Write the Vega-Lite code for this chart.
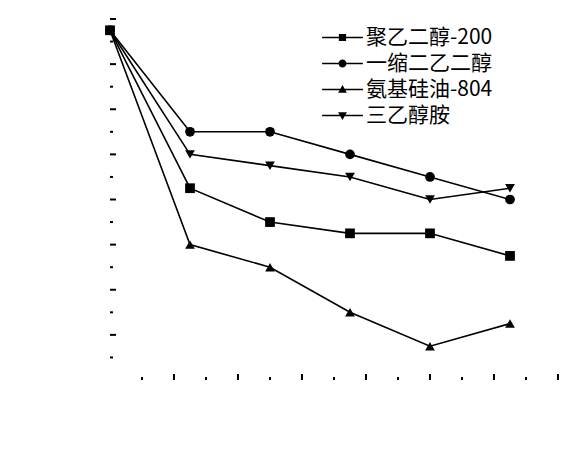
{
  "$schema": "https://vega.github.io/schema/vega-lite/v6.json",
  "width": 448,
  "height": 361,
  "autosize": "none",
  "padding": {"left": 110, "top": 19, "right": 27, "bottom": 81},
  "background": "white",
  "config": {
    "view": {"stroke": null, "fill": "transparent"},
    "axis": {
      "domainColor": "black",
      "domainWidth": 3,
      "ticks": false,
      "grid": false,
      "zindex": 1,
      "labelColor": "black",
      "titleColor": "black",
      "labelFont": "Liberation Sans",
      "titleFont": "Noto Sans CJK SC"
    }
  },
  "datasets": {
    "oil": [
      {"series": "聚乙二醇-200", "dose": 0, "oil": 2.55},
      {"series": "聚乙二醇-200", "dose": 0.25, "oil": 1.85},
      {"series": "聚乙二醇-200", "dose": 0.5, "oil": 1.7},
      {"series": "聚乙二醇-200", "dose": 0.75, "oil": 1.65},
      {"series": "聚乙二醇-200", "dose": 1.0, "oil": 1.65},
      {"series": "聚乙二醇-200", "dose": 1.25, "oil": 1.55},
      {"series": "一缩二乙二醇", "dose": 0, "oil": 2.55},
      {"series": "一缩二乙二醇", "dose": 0.25, "oil": 2.1},
      {"series": "一缩二乙二醇", "dose": 0.5, "oil": 2.1},
      {"series": "一缩二乙二醇", "dose": 0.75, "oil": 2.0},
      {"series": "一缩二乙二醇", "dose": 1.0, "oil": 1.9},
      {"series": "一缩二乙二醇", "dose": 1.25, "oil": 1.8},
      {"series": "氨基硅油-804", "dose": 0, "oil": 2.55},
      {"series": "氨基硅油-804", "dose": 0.25, "oil": 1.6},
      {"series": "氨基硅油-804", "dose": 0.5, "oil": 1.5},
      {"series": "氨基硅油-804", "dose": 0.75, "oil": 1.3},
      {"series": "氨基硅油-804", "dose": 1.0, "oil": 1.15},
      {"series": "氨基硅油-804", "dose": 1.25, "oil": 1.25},
      {"series": "三乙醇胺", "dose": 0, "oil": 2.55},
      {"series": "三乙醇胺", "dose": 0.25, "oil": 2.0},
      {"series": "三乙醇胺", "dose": 0.5, "oil": 1.95},
      {"series": "三乙醇胺", "dose": 0.75, "oil": 1.9},
      {"series": "三乙醇胺", "dose": 1.0, "oil": 1.8},
      {"series": "三乙醇胺", "dose": 1.25, "oil": 1.85}
    ],
    "xticks": [
      {"v": 0.1, "kind": "minor"}, {"v": 0.2, "kind": "major"},
      {"v": 0.3, "kind": "minor"}, {"v": 0.4, "kind": "major"},
      {"v": 0.5, "kind": "minor"}, {"v": 0.6, "kind": "major"},
      {"v": 0.7, "kind": "minor"}, {"v": 0.8, "kind": "major"},
      {"v": 0.9, "kind": "minor"}, {"v": 1.0, "kind": "major"},
      {"v": 1.1, "kind": "minor"}, {"v": 1.2, "kind": "major"},
      {"v": 1.3, "kind": "minor"}, {"v": 1.4, "kind": "major"}
    ],
    "yticks": [
      {"v": 1.1, "kind": "minor"}, {"v": 1.2, "kind": "major"},
      {"v": 1.3, "kind": "minor"}, {"v": 1.4, "kind": "major"},
      {"v": 1.5, "kind": "minor"}, {"v": 1.6, "kind": "major"},
      {"v": 1.7, "kind": "minor"}, {"v": 1.8, "kind": "major"},
      {"v": 1.9, "kind": "minor"}, {"v": 2.0, "kind": "major"},
      {"v": 2.1, "kind": "minor"}, {"v": 2.2, "kind": "major"},
      {"v": 2.3, "kind": "minor"}, {"v": 2.4, "kind": "major"},
      {"v": 2.5, "kind": "minor"}, {"v": 2.6, "kind": "major"}
    ]
  },
  "layer": [
    {
      "data": {"name": "oil"},
      "mark": {"type": "line", "color": "black", "strokeWidth": 1.6},
      "encoding": {
        "detail": {"field": "series"},
        "x": {
          "field": "dose", "type": "quantitative",
          "scale": {"domain": [0, 1.4], "nice": false, "zero": false},
          "axis": {
            "orient": "bottom",
            "values": [0, 0.2, 0.4, 0.6, 0.8, 1.0, 1.2, 1.4],
            "labelExpr": "replace(format(datum.value, '.1f'), '.', '. ')",
            "labelPadding": 11,
            "labelFontSize": 26,
            "labelFlush": false,
            "title": "改性剂用量/%",
            "titleFontSize": 26,
            "titleFontWeight": "normal",
            "titlePadding": 10
          }
        },
        "y": {
          "field": "oil", "type": "quantitative",
          "scale": {"domain": [1.0, 2.6], "nice": false, "zero": false},
          "axis": {
            "orient": "left",
            "values": [1.0, 1.2, 1.4, 1.6, 1.8, 2.0, 2.2, 2.4, 2.6],
            "labelExpr": "replace(format(datum.value, '.1f'), '.', '. ')",
            "labelPadding": 11,
            "labelFontSize": 26,
            "labelFlush": false,
            "title": "吸油值/(10⁻¹ mL/g)",
            "titleFontSize": 23,
            "titleFontWeight": "bold",
            "titlePadding": 10
          }
        }
      }
    },
    {
      "data": {"name": "oil"},
      "mark": {"type": "point", "filled": true, "color": "black", "opacity": 1, "size": 95},
      "encoding": {
        "x": {"field": "dose", "type": "quantitative", "axis": null},
        "y": {"field": "oil", "type": "quantitative", "axis": null},
        "shape": {
          "field": "series", "type": "nominal",
          "scale": {
            "domain": ["聚乙二醇-200", "一缩二乙二醇", "氨基硅油-804", "三乙醇胺"],
            "range": ["square", "circle", "triangle-up", "triangle-down"]
          },
          "legend": null
        }
      }
    },
    {
      "data": {"name": "oil"},
      "mark": {"type": "point", "filled": true, "color": "black", "opacity": 0, "size": 64},
      "encoding": {
        "x": {"field": "dose", "type": "quantitative", "axis": null},
        "y": {"field": "oil", "type": "quantitative", "axis": null},
        "shape": {
          "field": "series", "type": "nominal",
          "scale": {
            "domain": ["聚乙二醇-200", "一缩二乙二醇", "氨基硅油-804", "三乙醇胺"],
            "range": [
              "M-5.1,-0.2H5.1V0.2H-5.1ZM-0.9,-0.9H0.9V0.9H-0.9Z",
              "M-5.1,-0.2H5.1V0.2H-5.1ZM1,0A1,1 0 1 1 -1,0A1,1 0 1 1 1,0Z",
              "M-5.1,-0.2H5.1V0.2H-5.1ZM0,-1.15L1.1,0.8H-1.1Z",
              "M-5.1,-0.2H5.1V0.2H-5.1ZM0,1.15L-1.1,-0.8H1.1Z"
            ]
          },
          "legend": {
            "title": null,
            "orient": "none",
            "legendX": 222,
            "legendY": 8,
            "symbolSize": 64,
            "symbolOpacity": 1,
            "symbolFillColor": "black",
            "symbolStrokeWidth": 0,
            "labelOffset": 13,
            "labelFont": "Noto Sans CJK SC",
            "labelFontSize": 21,
            "labelColor": "black",
            "rowPadding": 4
          }
        }
      }
    },
    {
      "data": {"name": "xticks"},
      "transform": [{"filter": "datum.kind === 'major'"}],
      "mark": {"type": "tick", "orient": "vertical", "color": "black", "thickness": 2, "size": 6, "yOffset": -3, "opacity": 1},
      "encoding": {
        "x": {"field": "v", "type": "quantitative", "axis": null},
        "y": {"datum": 1.0, "type": "quantitative", "axis": null}
      }
    },
    {
      "data": {"name": "xticks"},
      "transform": [{"filter": "datum.kind === 'minor'"}],
      "mark": {"type": "tick", "orient": "vertical", "color": "black", "thickness": 2, "size": 3, "yOffset": -1.5, "opacity": 1},
      "encoding": {
        "x": {"field": "v", "type": "quantitative", "axis": null},
        "y": {"datum": 1.0, "type": "quantitative", "axis": null}
      }
    },
    {
      "data": {"name": "yticks"},
      "transform": [{"filter": "datum.kind === 'major'"}],
      "mark": {"type": "tick", "orient": "horizontal", "color": "black", "thickness": 2, "size": 6, "xOffset": 3, "opacity": 1},
      "encoding": {
        "y": {"field": "v", "type": "quantitative", "axis": null},
        "x": {"datum": 0, "type": "quantitative", "axis": null}
      }
    },
    {
      "data": {"name": "yticks"},
      "transform": [{"filter": "datum.kind === 'minor'"}],
      "mark": {"type": "tick", "orient": "horizontal", "color": "black", "thickness": 2, "size": 3, "xOffset": 1.5, "opacity": 1},
      "encoding": {
        "y": {"field": "v", "type": "quantitative", "axis": null},
        "x": {"datum": 0, "type": "quantitative", "axis": null}
      }
    }
  ],
  "resolve": {"scale": {"shape": "independent"}}
}
